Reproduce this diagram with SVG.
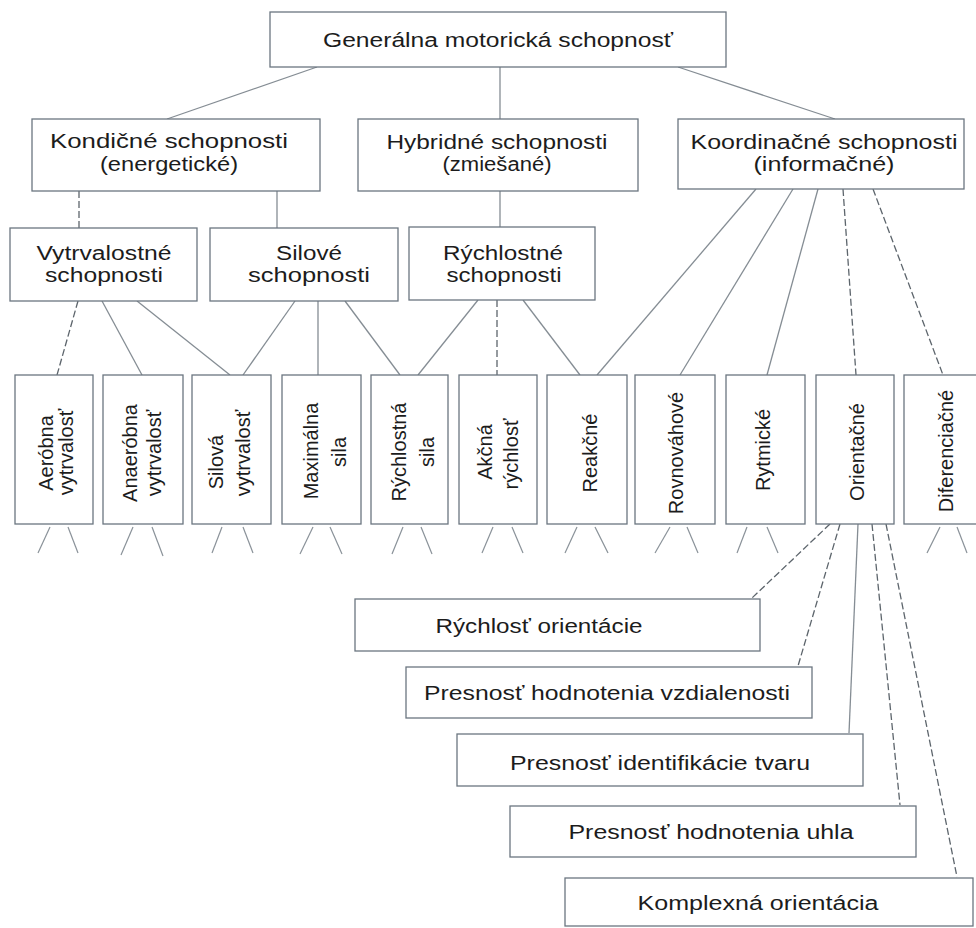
<svg xmlns="http://www.w3.org/2000/svg" width="976" height="928" viewBox="0 0 976 928">
  <style>
    .box { fill: #ffffff; stroke: #6b7680; stroke-width: 1.3; }
    .t { font-family: "Liberation Sans", Arial, sans-serif; font-size: 20px; fill: #1c1c1c; text-anchor: middle; }
    .c { fill: none; stroke: #858d94; stroke-width: 1.3; }
    .d { fill: none; stroke: #5d656c; stroke-width: 1.3; stroke-dasharray: 7 3; }
    .s { fill: none; stroke: #8a9299; stroke-width: 1.2; }
  </style>
  <rect width="976" height="928" fill="#ffffff"/>

  <!-- connectors -->
  <g id="connectors">
    <!-- level 1 -> level 2 -->
    <line class="c" x1="317" y1="67" x2="167" y2="119"/>
    <line class="c" x1="500" y1="67" x2="500" y2="119"/>
    <line class="c" x1="678" y1="67" x2="835" y2="119"/>
    <!-- level 2 -> level 3 -->
    <line class="d" x1="79" y1="191" x2="79" y2="228"/>
    <line class="c" x1="277" y1="191" x2="277" y2="228"/>
    <line class="c" x1="500" y1="191" x2="500" y2="227"/>
    <!-- level 3 -> abilities -->
    <line class="d" x1="78" y1="301" x2="57" y2="375"/>
    <line class="c" x1="102" y1="301" x2="142" y2="375"/>
    <line class="c" x1="137" y1="301" x2="230" y2="375"/>
    <line class="c" x1="295" y1="301" x2="243" y2="375"/>
    <line class="c" x1="318" y1="301" x2="318" y2="375"/>
    <line class="c" x1="345" y1="301" x2="400" y2="375"/>
    <line class="c" x1="478" y1="300" x2="418" y2="375"/>
    <line class="d" x1="497" y1="300" x2="497" y2="375"/>
    <line class="c" x1="523" y1="300" x2="580" y2="375"/>
    <!-- coordination -> abilities -->
    <line class="c" x1="756" y1="189" x2="597" y2="375"/>
    <line class="c" x1="793" y1="189" x2="680" y2="375"/>
    <line class="c" x1="818" y1="189" x2="767" y2="375"/>
    <line class="d" x1="843" y1="189" x2="856" y2="375"/>
    <line class="d" x1="873" y1="189" x2="943" y2="375"/>
    <!-- stubs under abilities -->
    <g class="s">
      <line x1="50" y1="527" x2="38" y2="553"/><line x1="68" y1="527" x2="78" y2="553"/>
      <line x1="133" y1="527" x2="121" y2="555"/><line x1="152" y1="527" x2="163" y2="556"/>
      <line x1="222" y1="527" x2="212" y2="553"/><line x1="243" y1="527" x2="253" y2="553"/>
      <line x1="313" y1="527" x2="300" y2="554"/><line x1="330" y1="527" x2="342" y2="554"/>
      <line x1="403" y1="527" x2="392" y2="554"/><line x1="421" y1="527" x2="432" y2="554"/>
      <line x1="493" y1="527" x2="482" y2="553"/><line x1="512" y1="527" x2="523" y2="553"/>
      <line x1="577" y1="527" x2="565" y2="553"/><line x1="595" y1="527" x2="608" y2="553"/>
      <line x1="670" y1="527" x2="655" y2="553"/><line x1="687" y1="527" x2="698" y2="553"/>
      <line x1="747" y1="527" x2="737" y2="553"/><line x1="767" y1="527" x2="778" y2="553"/>
      <line x1="940" y1="527" x2="927" y2="553"/><line x1="957" y1="527" x2="967" y2="553"/>
    </g>
    <!-- orientation -> sub-abilities -->
    <line class="d" x1="830" y1="524" x2="752" y2="598"/>
    <line class="d" x1="840" y1="524" x2="798" y2="666"/>
    <line class="c" x1="858" y1="524" x2="849" y2="733"/>
    <line class="d" x1="872" y1="524" x2="900" y2="805"/>
    <line class="d" x1="886" y1="524" x2="957" y2="877"/>
  </g>

  <!-- level 1 -->
  <g id="general">
    <rect class="box" x="270" y="12" width="456" height="55"/>
    <text class="t" x="498" y="47" textLength="350" lengthAdjust="spacingAndGlyphs">Generálna motorická schopnosť</text>
  </g>

  <!-- level 2 -->
  <g id="kondicne">
    <rect class="box" x="32" y="119" width="288" height="72"/>
    <text class="t" x="169" y="148" textLength="238" lengthAdjust="spacingAndGlyphs">Kondičné schopnosti</text>
    <text class="t" x="169" y="171" textLength="138" lengthAdjust="spacingAndGlyphs">(energetické)</text>
  </g>
  <g id="hybridne">
    <rect class="box" x="358" y="119" width="280" height="72"/>
    <text class="t" x="497" y="149" textLength="221" lengthAdjust="spacingAndGlyphs">Hybridné schopnosti</text>
    <text class="t" x="497" y="171" textLength="109" lengthAdjust="spacingAndGlyphs">(zmiešané)</text>
  </g>
  <g id="koordinacne">
    <rect class="box" x="678" y="119" width="286" height="70"/>
    <text class="t" x="824" y="149" textLength="267" lengthAdjust="spacingAndGlyphs">Koordinačné schopnosti</text>
    <text class="t" x="824" y="171" textLength="141" lengthAdjust="spacingAndGlyphs">(informačné)</text>
  </g>

  <!-- level 3 -->
  <g id="vytrvalostne">
    <rect class="box" x="10" y="228" width="187" height="73"/>
    <text class="t" x="104" y="260" textLength="135" lengthAdjust="spacingAndGlyphs">Vytrvalostné</text>
    <text class="t" x="104" y="282" textLength="118" lengthAdjust="spacingAndGlyphs">schopnosti</text>
  </g>
  <g id="silove">
    <rect class="box" x="210" y="228" width="188" height="73"/>
    <text class="t" x="309" y="260" textLength="66" lengthAdjust="spacingAndGlyphs">Silové</text>
    <text class="t" x="309" y="282" textLength="122" lengthAdjust="spacingAndGlyphs">schopnosti</text>
  </g>
  <g id="rychlostne">
    <rect class="box" x="409" y="227" width="186" height="73"/>
    <text class="t" x="503" y="260" textLength="120" lengthAdjust="spacingAndGlyphs">Rýchlostné</text>
    <text class="t" x="504" y="282" textLength="115" lengthAdjust="spacingAndGlyphs">schopnosti</text>
  </g>

  <!-- abilities (vertical labels) -->
  <g id="aerobna">
    <rect class="box" x="15" y="375" width="78" height="149"/>
    <text class="t" transform="translate(53,453) rotate(-90)">Aeróbna</text>
    <text class="t" transform="translate(73,452) rotate(-90)">vytrvalosť</text>
  </g>
  <g id="anaerobna">
    <rect class="box" x="103" y="375" width="80" height="149"/>
    <text class="t" transform="translate(137,453) rotate(-90)">Anaeróbna</text>
    <text class="t" transform="translate(161,453) rotate(-90)">vytrvalosť</text>
  </g>
  <g id="silova">
    <rect class="box" x="192" y="375" width="79" height="149"/>
    <text class="t" transform="translate(223,462) rotate(-90)">Silová</text>
    <text class="t" transform="translate(250,453) rotate(-90)">vytrvalosť</text>
  </g>
  <g id="maximalna">
    <rect class="box" x="282" y="375" width="79" height="149"/>
    <text class="t" transform="translate(318,451) rotate(-90)">Maximálna</text>
    <text class="t" transform="translate(346,452) rotate(-90)">sila</text>
  </g>
  <g id="rychlostna">
    <rect class="box" x="371" y="375" width="77" height="149"/>
    <text class="t" transform="translate(406,452) rotate(-90)">Rýchlostná</text>
    <text class="t" transform="translate(434,452) rotate(-90)">sila</text>
  </g>
  <g id="akcna">
    <rect class="box" x="459" y="375" width="78" height="149"/>
    <text class="t" transform="translate(492,452) rotate(-90)">Akčná</text>
    <text class="t" transform="translate(518,454) rotate(-90)">rýchlosť</text>
  </g>
  <g id="reakcne">
    <rect class="box" x="547" y="375" width="80" height="149"/>
    <text class="t" transform="translate(597,453) rotate(-90)">Reakčné</text>
  </g>
  <g id="rovnovahove">
    <rect class="box" x="635" y="375" width="80" height="149"/>
    <text class="t" transform="translate(683,453) rotate(-90)">Rovnováhové</text>
  </g>
  <g id="rytmicke">
    <rect class="box" x="726" y="375" width="79" height="149"/>
    <text class="t" transform="translate(770,450) rotate(-90)">Rytmické</text>
  </g>
  <g id="orientacne">
    <rect class="box" x="816" y="375" width="78" height="149"/>
    <text class="t" transform="translate(864,452) rotate(-90)">Orientačné</text>
  </g>
  <g id="diferenciacne">
    <rect class="box" x="904" y="375" width="80" height="149"/>
    <text class="t" transform="translate(953,451) rotate(-90)">Diferenciačné</text>
  </g>

  <!-- orientation sub-abilities -->
  <g id="rychlost-orientacie">
    <rect class="box" x="355" y="599" width="405" height="52"/>
    <text class="t" x="539" y="633" textLength="207" lengthAdjust="spacingAndGlyphs">Rýchlosť orientácie</text>
  </g>
  <g id="hodnotenie-vzdialenosti">
    <rect class="box" x="406" y="667" width="406" height="51"/>
    <text class="t" x="607" y="700" textLength="366" lengthAdjust="spacingAndGlyphs">Presnosť hodnotenia vzdialenosti</text>
  </g>
  <g id="identifikacia-tvaru">
    <rect class="box" x="457" y="734" width="406" height="52"/>
    <text class="t" x="660" y="770" textLength="300" lengthAdjust="spacingAndGlyphs">Presnosť identifikácie tvaru</text>
  </g>
  <g id="hodnotenie-uhla">
    <rect class="box" x="510" y="806" width="406" height="51"/>
    <text class="t" x="711" y="839" textLength="285" lengthAdjust="spacingAndGlyphs">Presnosť hodnotenia uhla</text>
  </g>
  <g id="komplexna-orientacia">
    <rect class="box" x="565" y="878" width="408" height="48"/>
    <text class="t" x="758" y="910" textLength="241" lengthAdjust="spacingAndGlyphs">Komplexná orientácia</text>
  </g>
</svg>
